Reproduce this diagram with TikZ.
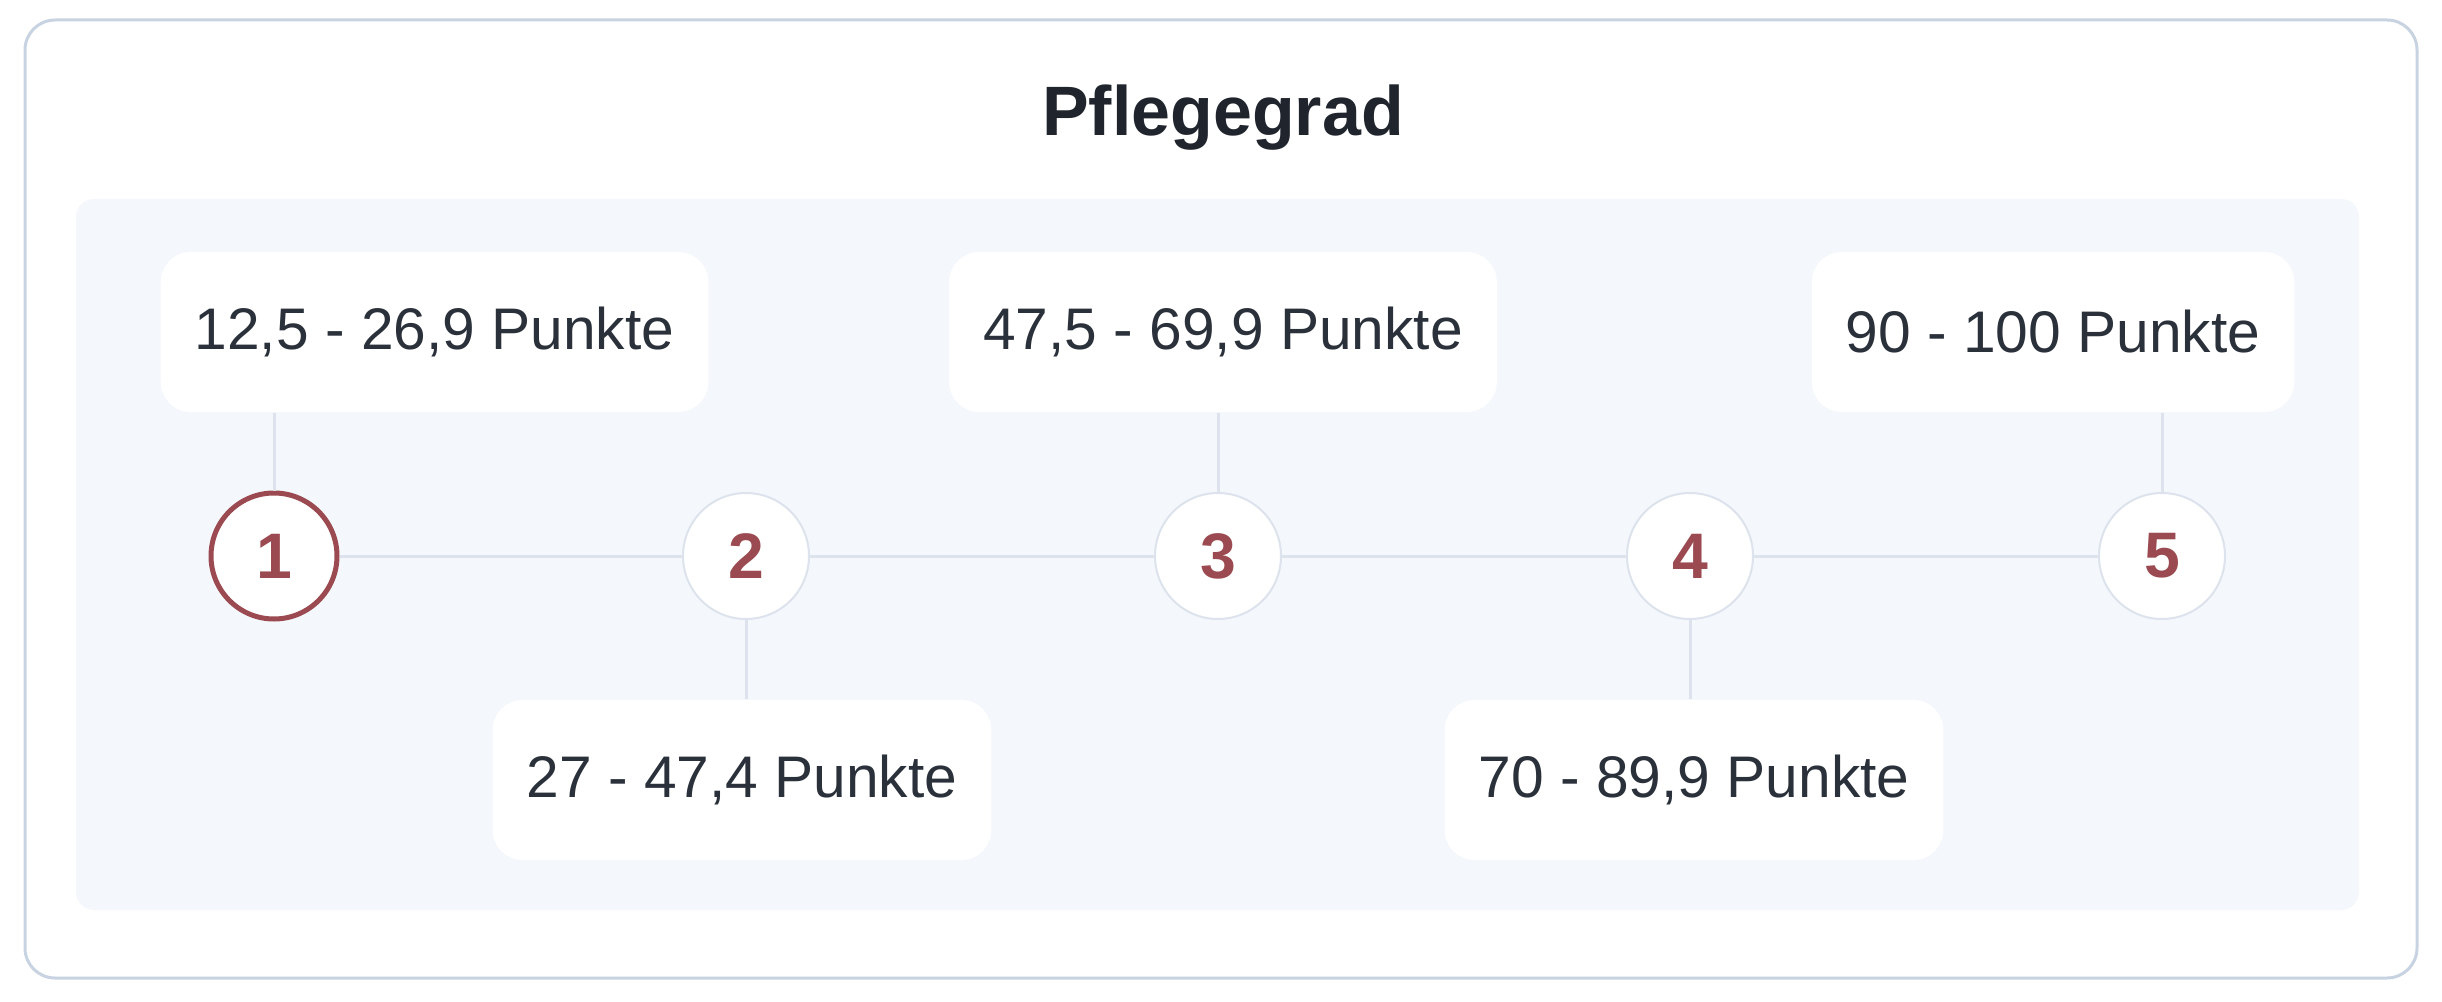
\documentclass[tikz,border=0pt]{standalone}
\usepackage{fontspec}
\setmainfont{Liberation Sans}

\definecolor{cardline}{HTML}{C8D3E1}
\definecolor{panelbg}{HTML}{F4F7FB}
\definecolor{linkline}{HTML}{DDE3ED}
\definecolor{grademark}{HTML}{9A4A50}
\definecolor{labeltext}{HTML}{2B313B}
\definecolor{titletext}{HTML}{1F242D}

\tikzset{
  pointbox/.style={fill=white, rounded corners=0.3cm, minimum height=1.6cm,
    inner xsep=0.34cm, text=labeltext, font=\fontsize{16.7pt}{20pt}\selectfont},
  gradering/.style={circle, draw=linkline, line width=0.02cm, fill=white,
    minimum size=1.26cm, inner sep=0pt, text=grademark,
    font=\bfseries\fontsize{18.3pt}{22pt}\selectfont},
  currentring/.style={draw=grademark, line width=0.05cm},
  connector/.style={draw=linkline, line width=0.03cm}
}

\begin{document}
\begin{tikzpicture}
  \useasboundingbox (0,0) rectangle (24.42,-10.02);

  % Card and panel
  \draw[cardline, line width=0.03cm, fill=white, rounded corners=0.3cm]
    (0.25,-0.2) rectangle (24.17,-9.78);
  \fill[panelbg, rounded corners=0.18cm] (0.76,-1.99) rectangle (23.59,-9.1);
  \node[font=\bfseries\fontsize{19.9pt}{24pt}\selectfont, text=titletext, anchor=base]
    (title) at (12.23,-1.36) {Pflegegrad};

  % Grades
  \node[gradering, currentring] (g1) at (2.74,-5.56) {1};
  \node[gradering] (g2) at (7.46,-5.56) {2};
  \node[gradering] (g3) at (12.18,-5.56) {3};
  \node[gradering] (g4) at (16.90,-5.56) {4};
  \node[gradering] (g5) at (21.62,-5.56) {5};

  % Point ranges
  \node[pointbox, anchor=west] (r1) at (1.60,-3.32) {12,5 - 26,9 Punkte};
  \node[pointbox] (r2) at (7.42,-7.80) {27 - 47,4 Punkte};
  \node[pointbox] (r3) at (12.23,-3.32) {47,5 - 69,9 Punkte};
  \node[pointbox] (r4) at (16.94,-7.80) {70 - 89,9 Punkte};
  \node[pointbox, anchor=east] (r5) at (22.95,-3.32) {90 - 100 Punkte};

  % Links
  \draw[connector] (g1) -- (g2) -- (g3) -- (g4) -- (g5);
  \draw[connector] (g1) -- (g1 |- r1.south);
  \draw[connector] (g2) -- (g2 |- r2.north);
  \draw[connector] (g3) -- (g3 |- r3.south);
  \draw[connector] (g4) -- (g4 |- r4.north);
  \draw[connector] (g5) -- (g5 |- r5.south);
\end{tikzpicture}
\end{document}
